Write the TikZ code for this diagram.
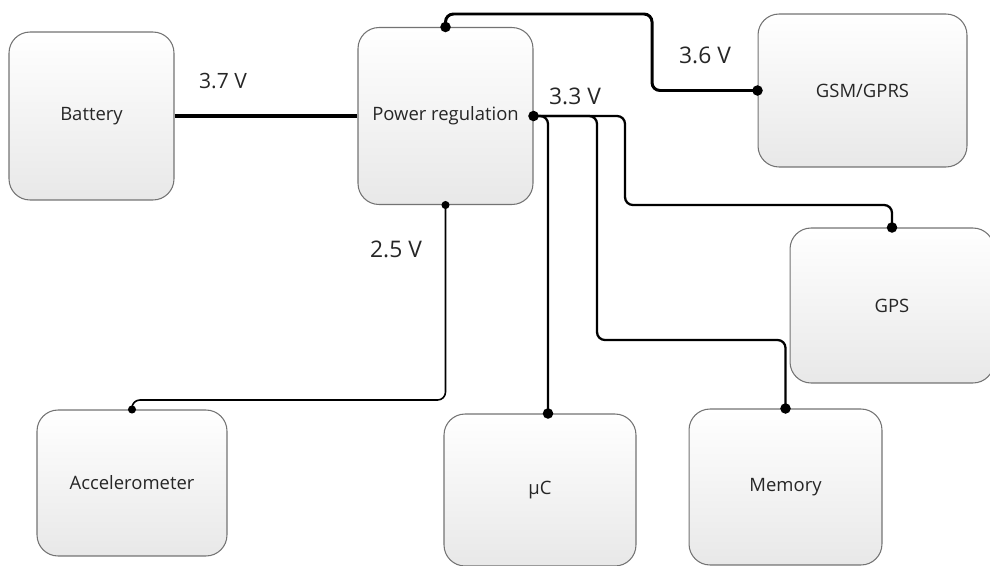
\documentclass[tikz,border=0pt]{standalone}
\usepackage{fontspec}
\setmainfont{Open Sans}
\usepackage{tikz}
\usetikzlibrary{positioning,calc}

\begin{document}
\begin{tikzpicture}[
    x=0.02cm, y=-0.02cm,
    block/.style={rectangle, draw=black!55, line width=0.6pt, rounded corners=0.42cm, top color=white, bottom color=black!9, text=black!85, font=\fontsize{10.5}{12}\selectfont, inner sep=0pt},
    wire/.style={line width=#1, rounded corners=4.5pt},
    volt/.style={font=\fontsize{13}{15}\selectfont, text=black!85, inner sep=0pt},
]
    \useasboundingbox (0,0) rectangle (990,565);

    \node[block, minimum width=3.3cm, minimum height=3.36cm] (bat) at (91.5,116) {Battery};
    \node[block, minimum width=3.5cm, minimum height=3.54cm] (pwr) at (445.5,116) {Power regulation};
    \node[block, minimum width=4.18cm, minimum height=3.06cm] (gsm) at (862.5,90.5) {GSM/GPRS};
    \node[block, minimum width=4.08cm, minimum height=3.1cm] (gps) at (892,305.5) {GPS};
    \node[block, minimum width=3.8cm, minimum height=2.92cm] (acc) at (132,483) {Accelerometer};
    \node[block, minimum width=3.84cm, minimum height=3.04cm] (uc) at (540,490) {µC};
    \node[block, minimum width=3.86cm, minimum height=3.12cm] (mem) at (785.5,487) {Memory};

    % bends of the wires
    \coordinate (gsmbend) at (652,14);
    \coordinate (gpsbend) at (625,205);
    \coordinate (membend) at (597,340);
    \coordinate (accbend) at (445.5,400);
    \coordinate (ucin) at ($(uc.north)+(8,0)$);

    \draw[wire=2.3pt] (bat.east) -- (pwr.west);
    \draw[wire=1.7pt] (pwr.north) |- (gsmbend) |- (gsm.west);
    \draw[wire=1.3pt] (pwr.east) -| (ucin);
    \draw[wire=1.3pt] (pwr.east) -| (membend) -| (mem.north);
    \draw[wire=1.3pt] (pwr.east) -| (gpsbend) -| (gps.north);
    \draw[wire=0.9pt] (pwr.south) -- (accbend) -| (acc.north);

    \foreach \p in {pwr.north, gsm.west, pwr.east, ucin, mem.north, gps.north}
        \fill (\p) circle (3pt);
    \foreach \p in {pwr.south, acc.north}
        \fill (\p) circle (2.3pt);

    \node[volt, font=\fontsize{12}{14}\selectfont] (v37) at (223,81) {3.7 V};
    \node[volt] (v36) at (705,55) {3.6 V};
    \node[volt] (v33) at (575,96) {3.3 V};
    \node[volt] (v25) at (396,249) {2.5 V};
\end{tikzpicture}
\end{document}
